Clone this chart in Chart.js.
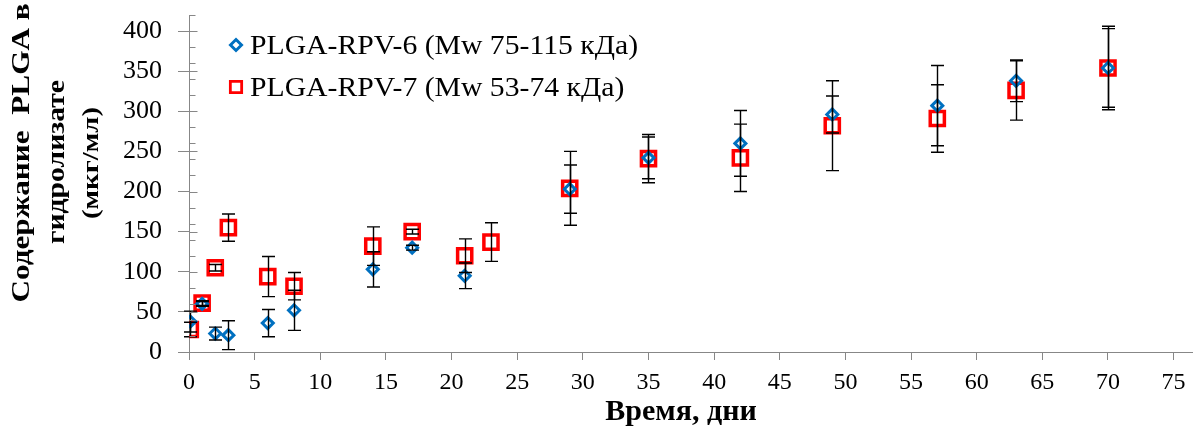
<!DOCTYPE html>
<html lang="ru">
<head>
<meta charset="UTF-8">
<title>Содержание PLGA в гидролизате</title>
<script src="https://cdn.jsdelivr.net/npm/chart.js"></script>
<style>
  html, body { margin: 0; padding: 0; background: #fff; }
</style>
</head>
<body>
<canvas id="chart" width="1194" height="430"></canvas>
<script>
// значения
const days6 = [0.1, 1, 2, 3, 6, 8, 14, 17, 21, 29, 35, 42, 49, 57, 63, 70];
const plga6 = [38, 60, 23, 21, 36, 52, 103, 130, 95, 203, 242, 260, 296, 307, 338, 354];
const err6  = [13, 3, 8, 18, 17, 25, 22, 3, 16, 30, 26, 41, 23, 50, 26, 52];

const days7 = [0.1, 1, 2, 3, 6, 8, 14, 17, 21, 23, 29, 35, 42, 49, 57, 63, 70];
const plga7 = [28, 61, 105, 155, 94, 82, 132, 150, 120, 137, 204, 241, 242, 282, 291, 326, 354];
const err7  = [9, 3, 4, 17, 25, 17, 24, 3, 21, 24, 46, 30, 42, 56, 42, 37, 49];

const xTicks = [0, 5, 10, 15, 20, 25, 30, 35, 40, 45, 50, 55, 60, 65, 70, 75];
const yTicks = [0, 50, 100, 150, 200, 250, 300, 350, 400];
const yMinor = [0, 20, 40, 60, 80, 100, 120, 140, 160, 180, 200, 220, 240, 260, 280, 300, 320, 340, 360, 380, 400, 420];

const seriesNames = ['PLGA-RPV-6 (Mw 75-115 кДа)', 'PLGA-RPV-7 (Mw 53-74 кДа)'];
const yTitle = ['Содержание  PLGA в', 'гидролизате', '(мкг/мл)'];
const xTitle = 'Время, дни';

const serif = "'Liberation Serif', 'Times New Roman', serif";
const axisGray = '#878787';
const blue = '#0070C0';
const red = '#FF0000';

// усы погрешностей
const errorBars = {
  id: 'errorBars',
  afterDatasetsDraw(chart) {
    const { ctx, scales: { x, y } } = chart;
    ctx.save();
    ctx.strokeStyle = '#000';
    ctx.lineWidth = 1.4;
    [[days6, plga6, err6], [days7, plga7, err7]].forEach(([xs, ys, es]) => {
      xs.forEach((d, i) => {
        const px = Math.round(x.getPixelForValue(d)) + 0.5;
        const top = y.getPixelForValue(ys[i] + es[i]);
        const bot = y.getPixelForValue(ys[i] - es[i]);
        ctx.beginPath();
        ctx.moveTo(px, top); ctx.lineTo(px, bot);
        ctx.moveTo(px - 6.5, top); ctx.lineTo(px + 6.5, top);
        ctx.moveTo(px - 6.5, bot); ctx.lineTo(px + 6.5, bot);
        ctx.stroke();
      });
    });
    ctx.restore();
  }
};

// засечки оси Y внутрь области, подписи осей и легенда
const decor = {
  id: 'decor',
  afterDraw(chart) {
    const { ctx, scales: { x, y } } = chart;
    const ax = Math.round(x.getPixelForValue(0)) + 0.5;
    ctx.save();
    ctx.strokeStyle = axisGray;
    ctx.lineWidth = 1;
    ctx.beginPath();
    yMinor.forEach(v => {
      const py = Math.round(y.getPixelForValue(v)) + 0.5;
      ctx.moveTo(ax, py); ctx.lineTo(ax + 6, py);
    });
    yTicks.forEach(v => {
      const py = Math.round(y.getPixelForValue(v)) + 0.5;
      ctx.moveTo(ax, py); ctx.lineTo(ax + 8, py);
    });
    ctx.stroke();

    // подпись оси Y (немного растянута вдоль строки, как в оригинале)
    ctx.fillStyle = '#000';
    ctx.textAlign = 'center';
    ctx.textBaseline = 'middle';
    const cols = [22, 57, 92];
    const rows = [153, 162, 163];
    const sizes = [26, 26, 24];
    const stretch = [1.2, 1.14, 1.2];
    yTitle.forEach((line, i) => {
      ctx.save();
      ctx.translate(cols[i], rows[i]);
      ctx.rotate(-Math.PI / 2);
      ctx.scale(stretch[i], 1);
      ctx.font = 'bold ' + sizes[i] + 'px ' + serif;
      ctx.fillText(line, 0, 0);
      ctx.restore();
    });

    // подпись оси X
    ctx.font = 'bold 30px ' + serif;
    ctx.textBaseline = 'alphabetic';
    ctx.fillText(xTitle, 681, 420);

    // легенда
    ctx.textAlign = 'left';
    ctx.font = '27px ' + serif;
    const marks = [
      { pointStyle: 'rectRot', radius: 5.5, borderWidth: 3, color: blue, y: 45 },
      { pointStyle: 'rect', radius: 8, borderWidth: 2.8, color: red, y: 87 }
    ];
    marks.forEach((m, i) => {
      ctx.strokeStyle = m.color;
      ctx.fillStyle = 'rgba(0,0,0,0)';
      ctx.lineWidth = m.borderWidth;
      Chart.helpers.drawPoint(ctx, { pointStyle: m.pointStyle, radius: m.radius, borderWidth: m.borderWidth, rotation: 0 }, 236, m.y);
      ctx.fillStyle = '#000';
      ctx.save();
      ctx.translate(250, m.y + 9);
      ctx.scale(1.1, 1);
      ctx.fillText(seriesNames[i], 0, 0);
      ctx.restore();
    });
    ctx.restore();
  }
};

new Chart(document.getElementById('chart'), {
  type: 'scatter',
  data: {
    datasets: [
      {
        label: seriesNames[0],
        data: days6.map((d, i) => ({ x: d, y: plga6[i] })),
        pointStyle: 'rectRot',
        pointRadius: 5.5,
        borderWidth: 3,
        borderColor: blue,
        backgroundColor: 'rgba(0,0,0,0)'
      },
      {
        label: seriesNames[1],
        data: days7.map((d, i) => ({ x: d, y: plga7[i] })),
        pointStyle: 'rect',
        pointRadius: 10,
        borderWidth: 3.5,
        borderColor: red,
        backgroundColor: 'rgba(0,0,0,0)'
      }
    ]
  },
  options: {
    responsive: false,
    animation: false,
    layout: { autoPadding: false, padding: { top: 15, right: 2, left: 0, bottom: 0 } },
    plugins: { legend: { display: false }, tooltip: { enabled: false } },
    scales: {
      x: {
        type: 'linear',
        bounds: 'data',
        min: 0,
        max: 76.4,
        afterBuildTicks: s => { s.ticks = xTicks.map(v => ({ value: v })); },
        afterFit: s => { s.height = 78; s.paddingLeft = 0; s.paddingRight = 0; },
        grid: { drawOnChartArea: false, tickLength: 8, color: axisGray },
        border: { color: axisGray, width: 1 },
        ticks: { stepSize: 5, autoSkip: false, maxRotation: 0, padding: 8, color: '#000', font: { family: serif, size: 24 } }
      },
      y: {
        type: 'linear',
        bounds: 'data',
        min: 0,
        max: 420,
        afterBuildTicks: s => { s.ticks = yTicks.map(v => ({ value: v })); },
        afterFit: s => { s.width = 189; s.paddingTop = 0; s.paddingBottom = 0; },
        grid: { drawOnChartArea: false, tickLength: 11, color: axisGray },
        border: { color: axisGray, width: 1 },
        ticks: { stepSize: 20, autoSkip: false, padding: 16, color: '#000', font: { family: serif, size: 26 } }
      }
    }
  },
  plugins: [errorBars, decor]
});
</script>
</body>
</html>
